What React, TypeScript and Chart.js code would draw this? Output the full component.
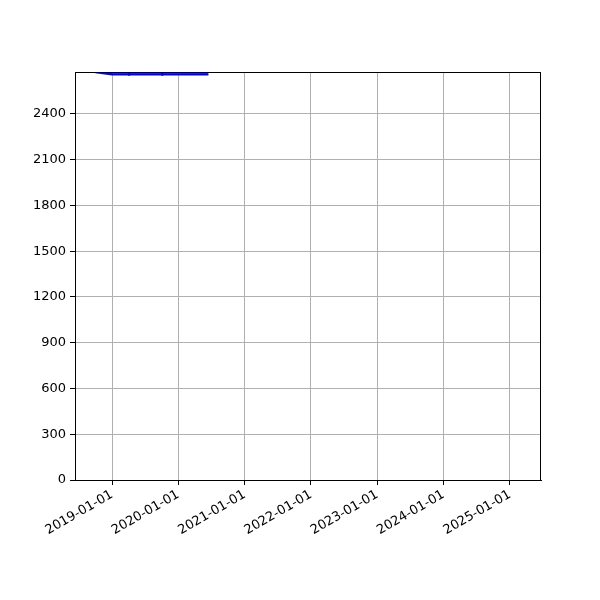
import { useEffect, useRef } from "react";
import { Chart, registerables } from "chart.js";

Chart.register(...registerables);

// ─── data ────────────────────────────────────────────────────────
const bandDates = ["2018-10-01", "2019-01-01", "2019-04-05", "2019-10-05", "2020-06-15"];
const bandValues = [2674, 2658, 2658, 2658, 2658];
const markerDates = ["2019-04-05", "2019-10-05"];
const markerValues = [2660, 2660];
const lineDates = ["2018-09-20", "2019-01-01"];
const lineValues = [2678, 2662];

const xTickLabels = ["2019-01-01", "2020-01-01", "2021-01-01", "2022-01-01", "2023-01-01", "2024-01-01", "2025-01-01"];
const yTicks = [0, 300, 600, 900, 1200, 1500, 1800, 2100, 2400];

const X_MIN = Date.parse("2018-06-11");
const X_MAX = Date.parse("2025-06-21");
const Y_MAX = 2675;

const FONT = "'DejaVu Sans', sans-serif";

const toPoints = (dates: string[], vals: number[]) =>
  dates.map((d, i) => ({ x: Date.parse(d), y: vals[i] }));

// black frame round the plot area
const framePlugin = {
  id: "frame",
  afterDraw(chart: Chart) {
    const { ctx, chartArea: a } = chart;
    ctx.save();
    ctx.strokeStyle = "#000";
    ctx.lineWidth = 1;
    ctx.strokeRect(a.left + 0.5, a.top + 0.5, a.right - a.left - 1, a.bottom - a.top);
    ctx.restore();
  },
};

export default function App() {
  const canvasRef = useRef<HTMLCanvasElement>(null);

  useEffect(() => {
    document.body.style.margin = "0";
    if (!canvasRef.current) return;
    const chart = new Chart(canvasRef.current, {
      type: "line",
      data: {
        datasets: [
          {
            data: toPoints(bandDates, bandValues),
            borderColor: "#0000ff",
            backgroundColor: "rgba(0,0,255,0.8)",
            borderWidth: 2,
            pointRadius: 0,
            fill: "end",
            tension: 0,
          },
          {
            data: toPoints(markerDates, markerValues),
            showLine: false,
            pointRadius: 1.5,
            pointBackgroundColor: "#000080",
            pointBorderWidth: 0,
          },
          {
            data: toPoints(lineDates, lineValues),
            borderColor: "#000000",
            borderWidth: 1.2,
            pointRadius: 0,
            fill: false,
          },
        ],
      },
      options: {
        responsive: false,
        animation: false,
        layout: { padding: { top: 72, right: 59, left: 0, bottom: 0 } },
        plugins: { legend: { display: false }, tooltip: { enabled: false } },
        scales: {
          x: {
            type: "linear",
            min: X_MIN,
            max: X_MAX,
            afterBuildTicks: (s: any) => {
              s.ticks = xTickLabels.map((l) => ({ value: Date.parse(l) }));
            },
            afterFit: (s: any) => {
              s.height = 120;
            },
            ticks: {
              autoSkip: false,
              minRotation: 30,
              maxRotation: 30,
              color: "#000",
              font: { family: FONT, size: 13 },
              padding: 2,
              callback: (v: any) => new Date(Number(v)).toISOString().slice(0, 10),
            },
            grid: { color: "#b0b0b0", lineWidth: 1, tickColor: "#000", tickLength: 5 },
            border: { color: "#000", width: 1 },
          },
          y: {
            type: "linear",
            min: 0,
            max: Y_MAX,
            afterBuildTicks: (s: any) => {
              s.ticks = yTicks.map((v) => ({ value: v }));
            },
            afterFit: (s: any) => {
              s.width = 75;
            },
            ticks: {
              color: "#000",
              font: { family: FONT, size: 13 },
              padding: 4,
              callback: (v: any) => String(v),
            },
            grid: { color: "#b0b0b0", lineWidth: 1, tickColor: "#000", tickLength: 5 },
            border: { color: "#000", width: 1 },
          },
        },
      },
      plugins: [framePlugin],
    });
    return () => chart.destroy();
  }, []);

  return (
    <div style={{ width: 600, height: 600, background: "#fff" }}>
      <canvas ref={canvasRef} width={600} height={600} />
    </div>
  );
}
